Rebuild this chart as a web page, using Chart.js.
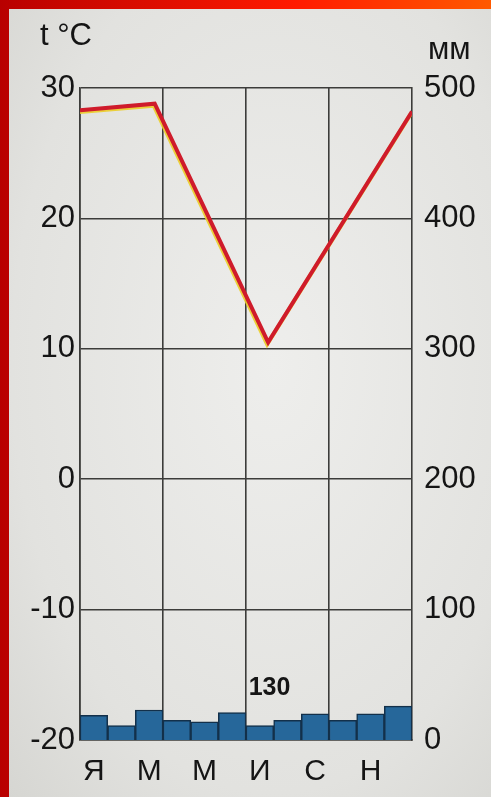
<!DOCTYPE html>
<html>
<head>
<meta charset="utf-8">
<script src="https://cdn.jsdelivr.net/npm/chart.js@4/dist/chart.umd.min.js"></script>
<style>
  html, body { margin: 0; padding: 0; }
  body { width: 491px; height: 797px; position: relative; overflow: hidden;
         background: linear-gradient(90deg, #b80000 0%, #ff1a00 60%, #ff5a00 100%); }
  #paper { position: absolute; left: 9px; top: 9px; right: 0; bottom: 0;
           background: radial-gradient(ellipse at 55% 45%, #eeeeec 0%, #e2e2df 70%, #d6d6d2 100%); }
  canvas { position: absolute; left: 0; top: 0; }
</style>
</head>
<body>
<div id="paper"></div>
<canvas id="chart" width="491" height="797"></canvas>
<script>
// months (every other letter is printed under the axis)
const months = ['Я', 'Ф', 'М', 'А', 'М', 'И', 'И', 'А', 'С', 'О', 'Н', 'Д'];
// monthly precipitation, mm
const precip = [19, 11, 23, 15, 14, 21, 11, 15, 20, 15, 20, 26];
// temperature curve knots: position in months from start of year, value in °C
const tempAt = [0, 2.7, 6.8, 12];
const tempC = [28.3, 28.8, 10.5, 28.2];
const annualPrecip = '130';

const gridCol = '#3c3c3a';
const font = 'Liberation Sans, Arial, sans-serif';

const extras = {
  id: 'extras',
  beforeDatasetDraw(chart, args) {
    if (args.index === 1) {
      const c = chart.ctx;
      c.save();
      c.shadowColor = 'rgba(235, 205, 40, 0.9)';
      c.shadowOffsetX = -1;
      c.shadowOffsetY = 2;
      c.shadowBlur = 0;
    }
  },
  afterDatasetDraw(chart, args) {
    if (args.index === 1) chart.ctx.restore();
  },
  afterDraw(chart) {
    const c = chart.ctx;
    const { xt, y1 } = chart.scales;
    c.save();
    c.fillStyle = '#151515';
    c.font = '31px ' + font;
    c.textBaseline = 'middle';
    c.textAlign = 'left';
    c.fillText('t °C', 40, 36);
    c.fillText('мм', 428, 50);
    c.font = 'bold 25px ' + font;
    c.textAlign = 'center';
    c.fillText(annualPrecip, xt.getPixelForValue(6.85), y1.getPixelForValue(40));
    c.restore();
  }
};

new Chart(document.getElementById('chart'), {
  data: {
    labels: months,
    datasets: [
      {
        type: 'bar',
        data: precip,
        xAxisID: 'x',
        yAxisID: 'y1',
        backgroundColor: '#26679a',
        borderColor: '#13304a',
        borderWidth: 1.5,
        grouped: false,
        categoryPercentage: 1,
        barPercentage: 1,
        order: 2
      },
      {
        type: 'line',
        data: tempAt.map((m, i) => ({ x: m, y: tempC[i] })),
        xAxisID: 'xt',
        yAxisID: 'y',
        borderColor: '#cf1b2b',
        borderWidth: 4,
        pointRadius: 0,
        tension: 0,
        order: 1
      }
    ]
  },
  options: {
    responsive: false,
    animation: false,
    layout: { padding: { top: 88, left: 0, right: 0, bottom: 0 } },
    plugins: { legend: { display: false }, tooltip: { enabled: false } },
    scales: {
      x: {
        type: 'category',
        position: 'bottom',
        grid: {
          offset: true,
          color: ctx => (ctx.index !== undefined && ctx.index % 3 === 0) ? gridCol : 'rgba(0,0,0,0)',
          lineWidth: 1.6,
          drawTicks: false
        },
        border: { display: true, color: gridCol, width: 1.6 },
        ticks: {
          autoSkip: false,
          maxRotation: 0,
          padding: 14,
          color: '#151515',
          font: { size: 30, family: font },
          callback: (v, i) => i % 2 === 0 ? months[i] : ''
        },
        afterFit: s => { s.height = 57; }
      },
      xt: { type: 'linear', display: false, min: 0, max: 12 },
      y: {
        position: 'left',
        min: -20,
        max: 30,
        ticks: {
          stepSize: 10,
          padding: 5,
          color: '#151515',
          font: { size: 31, family: font }
        },
        grid: { color: gridCol, lineWidth: 1.6, drawTicks: false },
        border: { display: true, color: gridCol, width: 1.6 },
        afterFit: s => { s.width = 80; }
      },
      y1: {
        position: 'right',
        min: 0,
        max: 500,
        ticks: {
          stepSize: 100,
          padding: 12,
          color: '#151515',
          font: { size: 31, family: font }
        },
        grid: { display: false, drawTicks: false },
        border: { display: true, color: gridCol, width: 1.6 },
        afterFit: s => { s.width = 79; }
      }
    }
  },
  plugins: [extras]
});
</script>
</body>
</html>
